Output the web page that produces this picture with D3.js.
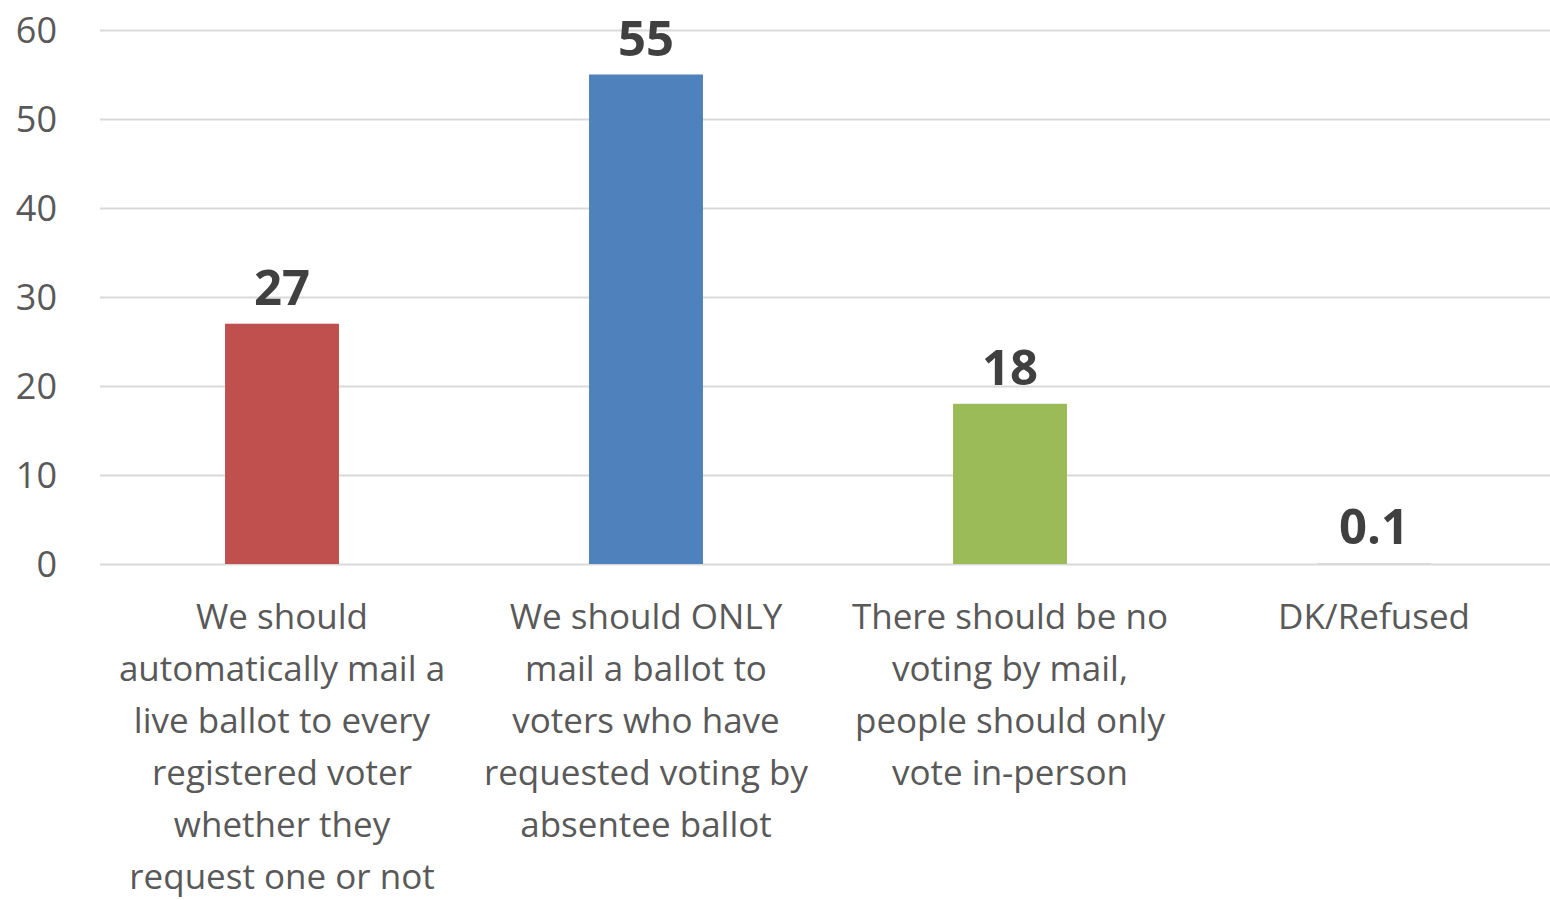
<!DOCTYPE html>
<html><head><meta charset="utf-8">
<script src="https://cdn.jsdelivr.net/npm/d3@7"></script>
<style>body{margin:0;background:#fff}svg{display:block}</style>
</head><body><svg id="c" width="1550" height="900"></svg>
<script>
const categories = ["cat1","cat2","cat3","cat4"];
const categoryLines = [
  ["We should","automatically mail a","live ballot to every","registered voter","whether they","request one or not"],
  ["We should ONLY","mail a ballot to","voters who have","requested voting by","absentee ballot"],
  ["There should be no","voting by mail,","people should only","vote in-person"],
  ["DK/Refused"]
];
const values = [27, 55, 18, 0.1];
const valueLabels = ["27","55","18","0.1"];
const colors = ["#c0504d","#4f81bd","#9bbb59","#d9d9d9"];
const yTicks = [0,10,20,30,40,50,60];

const svg = d3.select("#c");
const font = "'Open Sans', sans-serif";
const x = d3.scaleBand().domain(categories).range([100,1556]).paddingInner(0.687).paddingOuter(0.3435);
const y = d3.scaleLinear().domain([0,60]).range([564,30]);

const yAxis = d3.axisLeft(y).tickValues(yTicks).tickSize(-1450).tickPadding(43);
const gy = svg.append("g").attr("transform","translate(100,0)").call(yAxis);
gy.select(".domain").remove();
gy.selectAll(".tick line").attr("stroke","#d9d9d9").attr("stroke-width",2);
gy.selectAll(".tick text").attr("fill","#595959").style("font-family",font).style("font-size","36px").attr("dy","0.35em");

svg.append("g").selectAll("rect").data(values).join("rect")
  .attr("x",(d,i)=>x(categories[i])).attr("width",x.bandwidth())
  .attr("y",d=>y(d)).attr("height",d=>y(0)-y(d))
  .attr("fill",(d,i)=>colors[i]);

svg.append("g").selectAll("text").data(values).join("text")
  .attr("x",(d,i)=>x(categories[i])+x.bandwidth()/2)
  .attr("y",d=>y(d)-19)
  .attr("text-anchor","middle").attr("fill","#404040")
  .style("font-family",font).style("font-weight","bold").style("font-size","49px")
  .text((d,i)=>valueLabels[i]);

const cl = svg.append("g");
categoryLines.forEach((lines,i)=>{
  const t = cl.append("text").attr("text-anchor","middle").attr("fill","#595959")
    .style("font-family",font).style("font-size","35px");
  lines.forEach((ln,j)=>{
    t.append("tspan").attr("x",x(categories[i])+x.bandwidth()/2).attr("y",629+j*52).text(ln);
  });
});
</script></body></html>
